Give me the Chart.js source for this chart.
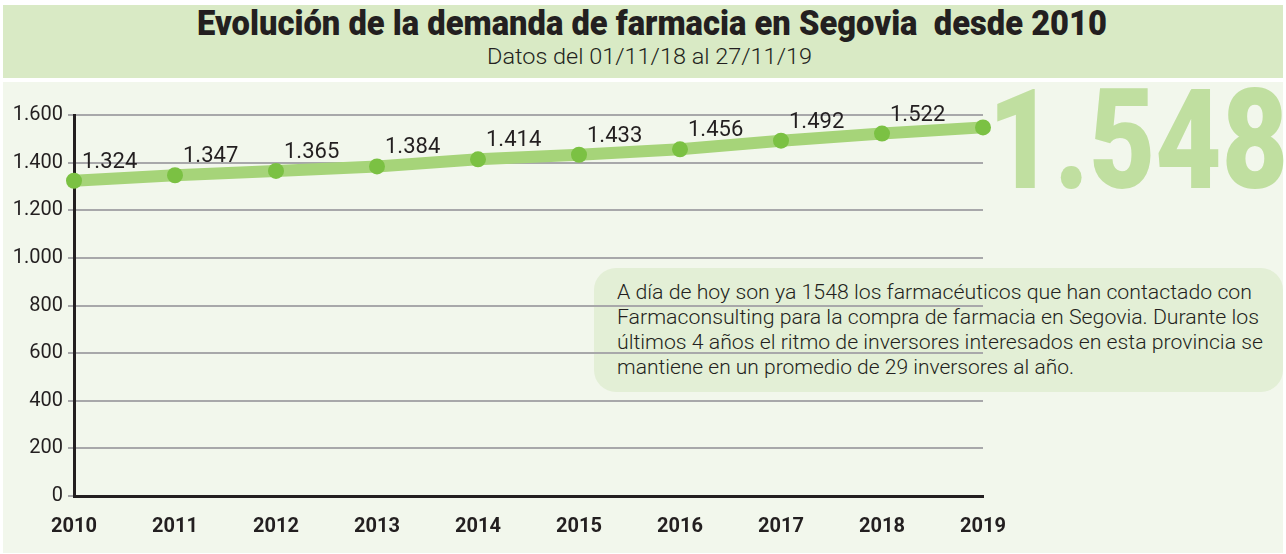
<!DOCTYPE html>
<html>
<head>
<meta charset="utf-8">
<script src="https://cdn.jsdelivr.net/npm/chart.js@4"></script>
<style>
  html, body { margin: 0; padding: 0; background: #fff; width: 1286px; height: 554px; overflow: hidden; font-family: Roboto, sans-serif; }
  #head { position: absolute; left: 3px; top: 5px; width: 1280px; height: 73px; background: #d9eac5; }
  #panel { position: absolute; left: 3px; top: 82px; width: 1280px; height: 471px; background: #f2f7ec; }
  .fit { position: absolute; white-space: nowrap; transform-origin: 0 0; color: #231f20; }
  #title { font-weight: 900; font-size: 35px; top: 3px; }
  #sub { font-weight: 300; font-size: 22px; top: 44px; }
  #big { top: 58px; font-size: 140px; font-weight: 900; color: #c0dfa0; }
  #note { position: absolute; left: 594px; top: 268px; width: 689px; height: 124px; background: #e3efd6; border-radius: 22px; }
  .ln { font-weight: 300; font-size: 20px; left: 617px; }
  #wrap { position: absolute; left: 0; top: 0; width: 1286px; height: 554px; }
</style>
</head>
<body>
<div id="head"></div>
<div id="panel"></div>
<div class="fit" id="big" data-x="988" data-w="300">1.548</div>
<div id="note"></div>
<div class="fit" id="title" data-x="197" data-w="910">Evolución de la demanda de farmacia en Segovia&nbsp; desde 2010</div>
<div class="fit" id="sub" data-x="487" data-w="325">Datos del 01/11/18 al 27/11/19</div>
<div class="fit ln" style="top:280px" data-x="617" data-w="635">A día de hoy son ya 1548 los farmacéuticos que han contactado con</div>
<div class="fit ln" style="top:305px" data-x="617" data-w="642">Farmaconsulting para la compra de farmacia en Segovia. Durante los</div>
<div class="fit ln" style="top:330px" data-x="617" data-w="646">últimos 4 años el ritmo de inversores interesados en esta provincia se</div>
<div class="fit ln" style="top:355px" data-x="617" data-w="457">mantiene en un promedio de 29 inversores al año.</div>
<div id="wrap"><canvas id="lineChart"></canvas></div>
<script>
// squeeze the condensed-looking texts to their width in the picture
document.querySelectorAll('.fit').forEach(function (el) {
    const w = el.getBoundingClientRect().width;
    el.style.left = el.dataset.x + 'px';
    el.style.transform = 'scaleX(' + (el.dataset.w / w) + ')';
});

const years = ['2010', '2011', '2012', '2013', '2014', '2015', '2016', '2017', '2018', '2019'];
const demand = [1324, 1347, 1365, 1384, 1414, 1433, 1456, 1492, 1522, 1548];
const yTicks = [0, 200, 400, 600, 800, 1000, 1200, 1400, 1600];

const fmtNum = v => v >= 1000 ? String(v).replace(/(\d)(\d{3})$/, '$1.$2') : String(v);

// labels above-right of every point (the last one is the big number)
const valueLabels = {
    id: 'valueLabels',
    afterDatasetsDraw(chart) {
        const ctx = chart.ctx;
        const meta = chart.getDatasetMeta(0);
        ctx.save();
        ctx.font = '22px Roboto';
        ctx.fillStyle = '#231f20';
        ctx.textAlign = 'left';
        ctx.textBaseline = 'alphabetic';
        meta.data.forEach((pt, i) => {
            if (i === demand.length - 1) return;
            ctx.fillText(fmtNum(demand[i]), pt.x + 8, pt.y - 13);
        });
        ctx.restore();
    }
};

const ctxLine = document.getElementById('lineChart').getContext('2d');
const lineChart = new Chart(ctxLine, {
    type: 'line',
    data: {
        labels: years,
        datasets: [{
            data: demand,
            borderColor: '#a6d479',
            borderWidth: 12,
            pointRadius: 8,
            pointBackgroundColor: '#7bc143',
            pointBorderWidth: 0,
            tension: 0,
            clip: false
        }]
    },
    options: {
        responsive: true,
        maintainAspectRatio: false,
        animation: false,
        devicePixelRatio: 1,
        layout: { padding: { left: 0, top: 115, right: 303, bottom: 18 } },
        plugins: { legend: { display: false }, tooltip: { enabled: false } },
        scales: {
            x: {
                offset: false,
                grid: { display: false, drawTicks: false },
                border: { color: '#231f20', width: 3 },
                ticks: { color: '#231f20', font: { family: 'Roboto', size: 20, weight: 'bold' }, padding: 19, maxRotation: 0 },
                afterFit(s) { s.height = 40; }
            },
            y: {
                min: 0,
                max: 1600,
                afterBuildTicks(s) { s.ticks = yTicks.map(v => ({ value: v })); },
                grid: { color: '#a8a8aa', lineWidth: 2, tickLength: 6 },
                border: { color: '#231f20', width: 3 },
                ticks: { color: '#231f20', font: { family: 'Roboto', size: 20 }, padding: 5, callback: v => fmtNum(v) },
                afterFit(s) { s.width = 74; }
            }
        }
    },
    plugins: [valueLabels]
});
</script>
</body>
</html>
